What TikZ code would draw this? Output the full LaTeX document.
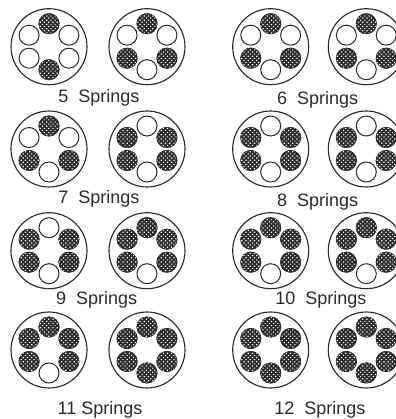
\documentclass[tikz,border=0pt]{standalone}
\usepackage{fontspec}
\setmainfont{Liberation Sans}
\usetikzlibrary{patterns.meta}
\definecolor{inchiostro}{HTML}{2B2B2B}

% one housing: centre x, centre y, angles of the loaded springs
\newcommand{\housing}[3]{%
  \draw[cassa] (#1,#2) circle (38);
  \foreach \a in {90,30,-30,-90,-150,150}
    \draw[mollavuota] (#1,#2) ++(\a:23) circle (10);
  \foreach \a in {#3}
    \draw[mollapiena] (#1,#2) ++(\a:23) circle (10);
}

\begin{document}
\begin{tikzpicture}[
    x=0.75pt,y=0.75pt,
    font=\fontsize{13.5}{15}\selectfont,
    cassa/.style={line width=0.85pt,inchiostro},
    mollavuota/.style={line width=0.75pt,inchiostro,fill=white},
    mollapiena/.style={line width=0.6pt,inchiostro,fill=inchiostro,
      postaction={pattern={Dots[angle=45,distance=2.25pt,radius=0.62pt]},pattern color=white}},
    etichetta/.style={text=inchiostro,inner sep=0pt}]

  \useasboundingbox (0,0) rectangle (396,419);
  \clip (0,0) rectangle (396,419);

  % ---- row of 5 and 6 ----
  \housing{49}{372.3}{90,-90}
  \housing{147}{372.3}{90,-30,-150}
  \housing{270.7}{372.3}{90,-30,-150}
  \housing{366.3}{372.3}{90,-30,-150}

  % ---- row of 7 and 8 ----
  \housing{49}{270}{90,-30,-150}
  \housing{147}{270}{30,150,-30,-150}
  \housing{270.7}{270}{30,150,-30,-150}
  \housing{366.3}{270}{30,150,-30,-150}

  % ---- row of 9 and 10 ----
  \housing{49}{168.3}{30,150,-30,-150}
  \housing{147}{168.3}{90,30,150,-30,-150}
  \housing{270.7}{168.3}{90,30,150,-30,-150}
  \housing{366.3}{168.3}{90,30,150,-30,-150}

  % ---- row of 11 and 12 ----
  \housing{49}{69}{90,30,150,-30,-150}
  \housing{147}{69}{90,30,150,-30,-150,-90}
  \housing{270.7}{69}{90,30,150,-30,-150,-90}
  \housing{366.3}{69}{90,30,150,-30,-150,-90}

  % ---- labels ----
  \node[etichetta] (five)   at (99,321)    {5\ \ Springs};
  \node[etichetta] (six)    at (317.7,319.5) {6\ \ Springs};
  \node[etichetta] (seven)  at (99,220.5)  {7\ \ Springs};
  \node[etichetta] (eight)  at (317.7,217.5) {8\ \ Springs};
  \node[etichetta] (nine)   at (96.7,119)  {9\ \ Springs};
  \node[etichetta] (ten)    at (321,119)   {10\ \ Springs};
  \node[etichetta] (eleven) at (100,9)     {11 Springs};
  \node[etichetta] (twelve) at (320,9)     {12\ \ Springs};

\end{tikzpicture}
\end{document}
